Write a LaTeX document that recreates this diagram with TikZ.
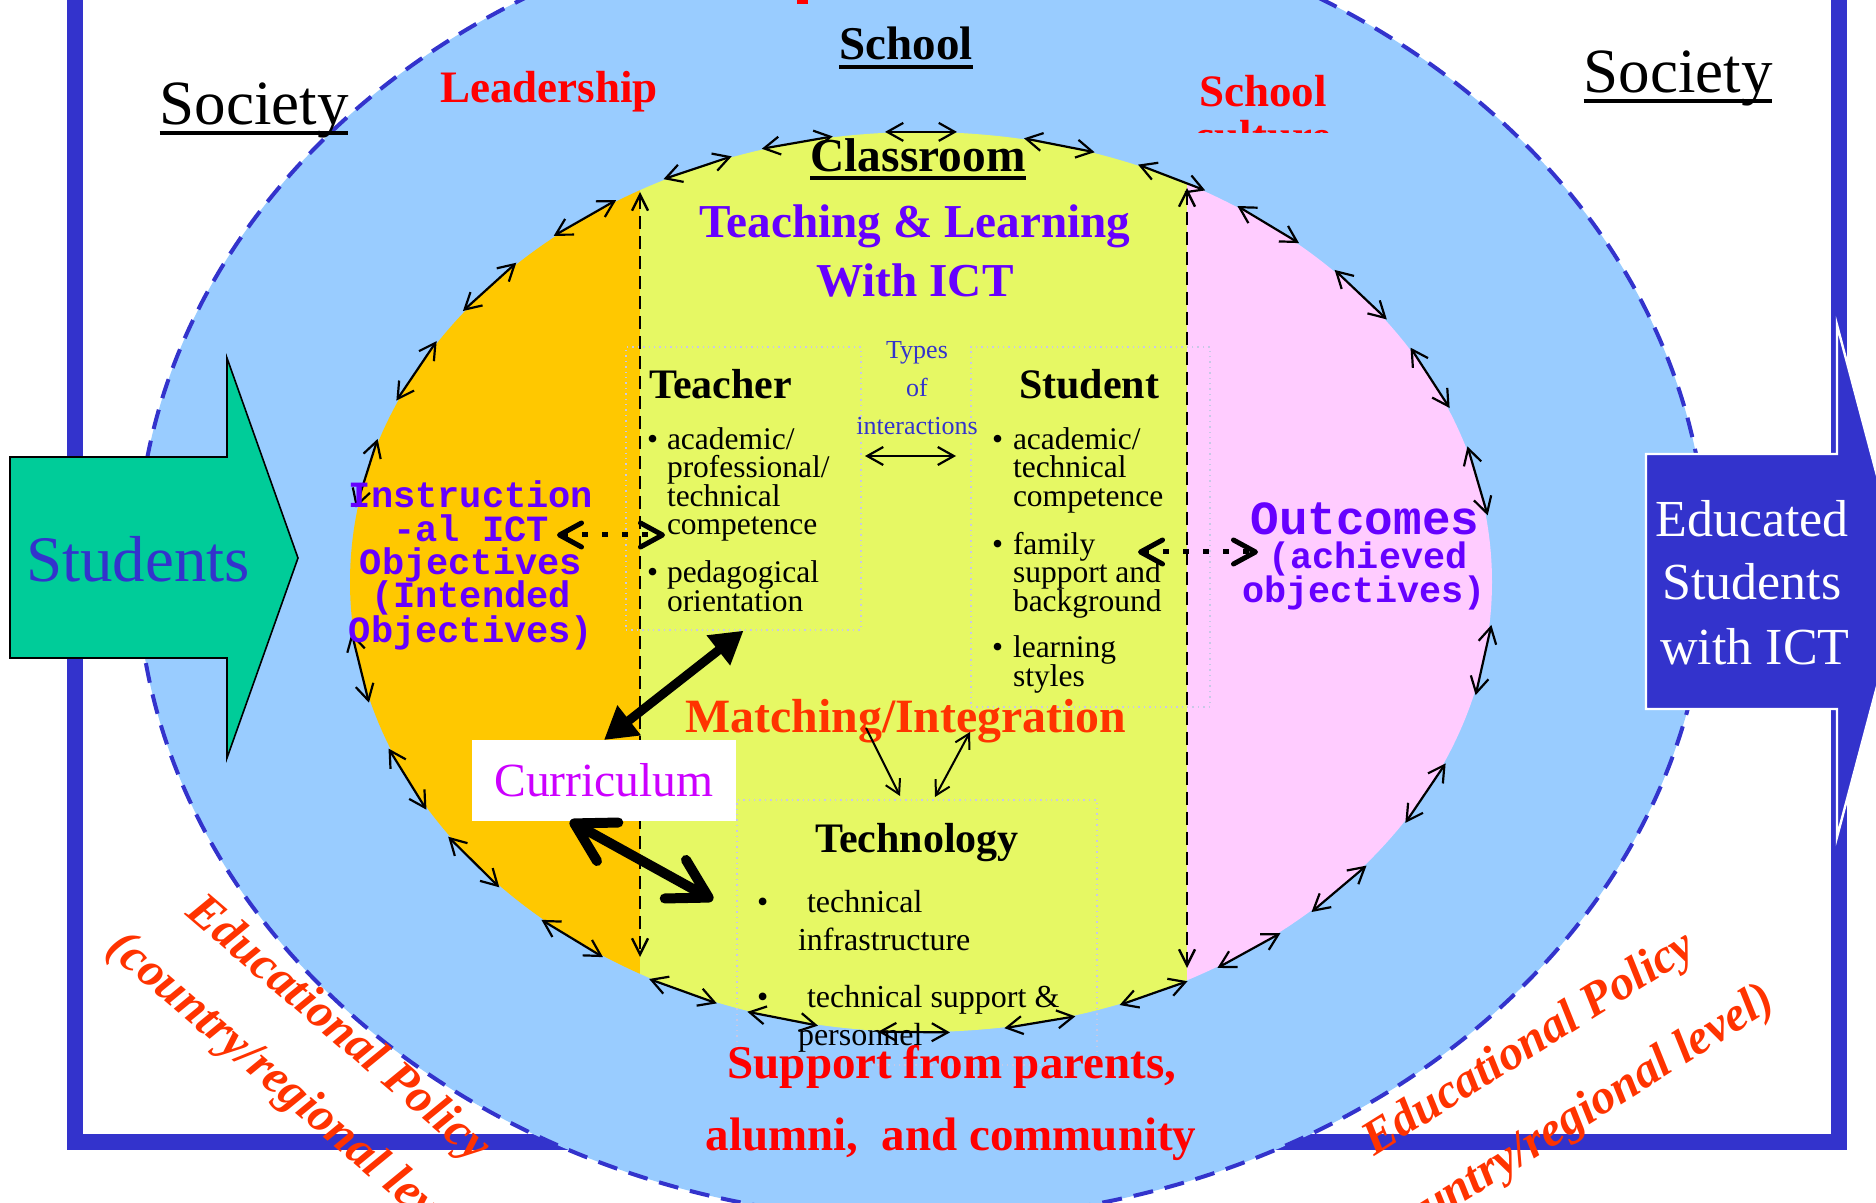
\documentclass[tikz,border=0pt]{standalone}
\usepackage{fontspec}
\setmainfont{Liberation Serif}
\newfontfamily\monofont{Liberation Mono}
\usetikzlibrary{arrows.meta}
\definecolor{skyb}{RGB}{153,204,255}
\definecolor{frameblue}{RGB}{51,51,204}
\definecolor{orng}{RGB}{255,200,0}
\definecolor{ylw}{RGB}{230,248,100}
\definecolor{pnk}{RGB}{255,204,255}
\definecolor{grn}{RGB}{0,204,153}
\definecolor{purp}{RGB}{102,0,255}
\definecolor{redd}{RGB}{255,0,0}
\definecolor{ored}{RGB}{255,51,0}
\definecolor{mag}{RGB}{204,0,255}
\definecolor{dotc}{RGB}{200,200,230}
\newcommand\fsz[1]{\fontsize{#1}{#1}\selectfont}
\tikzset{
  lbl/.style={inner sep=0pt, outer sep=0pt},
  ringarr/.style={line width=1.1pt, {Straight Barb[length=8pt,width=9pt]}-{Straight Barb[length=8pt,width=9pt]}},
  vdash/.style={line width=1.2pt, dash pattern=on 6.5pt off 3.5pt, {Straight Barb[length=8pt,width=8pt]}-{Straight Barb[length=8pt,width=8pt]}},
  thinarr/.style={line width=1pt, {Straight Barb[length=7pt,width=8pt]}-{Straight Barb[length=7pt,width=8pt]}},
  dotbox/.style={draw=dotc, line width=0.7pt, dotted, inner sep=0pt},
  dotarr/.style={line width=2.5pt, dash pattern=on 3pt off 7pt, {Straight Barb[length=11pt,width=12pt,round]}-{Straight Barb[length=11pt,width=12pt,round]}},
  bigtri/.style={line width=4.5pt, {Triangle[length=16pt,width=18pt]}-{Triangle[length=16pt,width=18pt]}},
  bigbarb/.style={line width=5pt, {Straight Barb[length=19pt,width=22pt,round]}-{Straight Barb[length=19pt,width=22pt,round]}},
  bul/.style={lbl, anchor=base west, font=\fsz{15.75}},
  tbul/.style={lbl, anchor=base west, font=\fsz{16}},
  head/.style={lbl, anchor=base west, font=\bfseries\fsz{21}},
  instr/.style={lbl, anchor=base, text=purp, font=\monofont\bfseries\fsz{18.5}},
  policy/.style={lbl, text=ored, font=\bfseries\itshape\fsz{24.3}},
}
\begin{document}
\begin{tikzpicture}[x=0.5pt,y=-0.5pt]
\useasboundingbox (0,0) rectangle (1876,1203);
\clip (0,0) rectangle (1876,1203);
\fill[white] (0,0) rectangle (1876,1203);
% frame
\draw[frameblue, line width=8pt] (74.5,-200) rectangle (1838.5,1141.5);
% outer school ellipse
\fill[skyb] (922,564) ellipse [x radius=392.5pt, y radius=328pt];
\draw[frameblue, line width=2pt, dash pattern=on 10pt off 6pt] (922,564) ellipse [x radius=392.5pt, y radius=328pt];
\fill[redd] (797,0) rectangle (808,4);
% input / output arrows
\filldraw[fill=grn, draw=black, line width=0.8pt] (10,457) -- (227,457) -- (227,358) -- (298,558) -- (227,758) -- (227,658) -- (10,658) -- cycle;
\node[lbl, anchor=base, text=frameblue, font=\fsz{32.5}] (students) at (138,582) {Students};
\filldraw[fill=frameblue, draw=white, line width=1.2pt] (1646,454) -- (1837,454) -- (1837,325) -- (1905,581) -- (1837,837) -- (1837,709) -- (1646,709) -- cycle;
\node[lbl, anchor=base, text=white, font=\fsz{26}] (ed1) at (1752,537) {Educated};
\node[lbl, anchor=base, text=white, font=\fsz{26}] (ed2) at (1752,600) {Students};
\node[lbl, anchor=base, text=white, font=\fsz{26}] (ed3) at (1755,665) {with ICT};
% classroom ellipse
\begin{scope}
\clip (921,582) ellipse [x radius=285.5pt, y radius=225pt];
\fill[orng] (300,100) rectangle (640,1100);
\fill[ylw] (640,100) rectangle (1187,1100);
\fill[pnk] (1187,100) rectangle (1550,1100);
\end{scope}
% ring of arrows
\foreach \ang [count=\i] in {102.5,90,76,64,52.6,39.7,27,13,-10,-28,-43,-55,-66,-78,-90.7,-104,-114.6,-127.6,-141.5,-154,-169,166,152,139,126,113}{
  \pgfmathsetmacro\sp{100*sqrt((5.73*sin(\ang))^2+(4.51*cos(\ang))^2)}
  \pgfmathsetmacro\dA{36/\sp*57.2958}
  \pgfmathsetmacro\xa{921+573*cos(\ang-\dA)}
  \pgfmathsetmacro\ya{582-451*sin(\ang-\dA)}
  \pgfmathsetmacro\xb{921+573*cos(\ang+\dA)}
  \pgfmathsetmacro\yb{582-451*sin(\ang+\dA)}
  \coordinate (ra\i) at (\xa,\ya);
  \coordinate (rb\i) at (\xb,\yb);
  \draw[ringarr] (ra\i) -- (rb\i);
}
% dashed dividers
\coordinate (dlT) at (640,192); \coordinate (dlB) at (640,957);
\coordinate (drT) at (1187,188); \coordinate (drB) at (1187,968);
\draw[vdash] (dlT) -- (dlB);
\draw[vdash] (drT) -- (drB);
% boxes
\node[dotbox, minimum width=117.5pt, minimum height=141.5pt] (tbox) at (743.5,488.5) {};
\node[dotbox, minimum width=119.5pt, minimum height=180pt] (sbox) at (1090.5,527) {};
\node[dotbox, minimum width=180pt, minimum height=132.5pt] (techbox) at (917,932.5) {};
\node[lbl, fill=white, minimum width=132pt, minimum height=40.5pt, text=mag, font=\fsz{23.8}] (curr) at (604,780.5) {Curriculum};
% texts in blue ring
\node[lbl, anchor=base, font=\fsz{31.5}] (socL) at (254,125) {Society};
\draw[line width=2pt] ([yshift=-4pt]socL.base west) -- ([yshift=-4pt]socL.base east);
\node[lbl, anchor=base, font=\fsz{31.5}] (socR) at (1678,93) {Society};
\draw[line width=2pt] ([yshift=-4pt]socR.base west) -- ([yshift=-4pt]socR.base east);
\node[lbl, anchor=base, font=\bfseries\fsz{23.5}] (school) at (906,60) {School};
\draw[line width=2pt] ([yshift=-3.5pt]school.base west) -- ([yshift=-3.5pt]school.base east);
\node[lbl, anchor=base, text=redd, font=\bfseries\fsz{22.5}] (lead) at (549,103) {Leadership};
\begin{scope}
\clip (1150,60) rectangle (1400,133);
\node[lbl, anchor=base, text=redd, font=\bfseries\fsz{22.5}] (scult1) at (1263,107) {School};
\node[lbl, anchor=base, text=redd, font=\bfseries\fsz{22.5}] (scult2) at (1263,152) {culture};
\end{scope}
\node[lbl, anchor=base, font=\bfseries\fsz{23.7}] (class) at (918,172) {Classroom};
\draw[line width=2pt] ([yshift=-3pt]class.base west) -- ([yshift=-3pt]class.base east);
\node[lbl, anchor=base, text=purp, font=\bfseries\fsz{23.6}] (tl1) at (915,238) {Teaching \& Learning};
\node[lbl, anchor=base, text=purp, font=\bfseries\fsz{23.6}] (tl2) at (915,297) {With ICT};
% teacher
\node[head] (teacher) at (649,399) {Teacher};
\node[bul] (tb1) at (647,450) {•};
\node[bul] (ta1) at (667,450) {academic/};
\node[bul] (ta2) at (667,478) {professional/};
\node[bul] (ta3) at (667,507) {technical};
\node[bul] (ta4) at (667,535) {competence};
\node[bul] (tb2) at (647,583) {•};
\node[bul] (ta5) at (667,583) {pedagogical};
\node[bul] (ta6) at (667,612) {orientation};
% student
\node[head] (student) at (1019,399) {Student};
\node[bul] (sb1) at (992,450) {•};
\node[bul] (sa1) at (1013,450) {academic/};
\node[bul] (sa2) at (1013,478) {technical};
\node[bul] (sa3) at (1013,507) {competence};
\node[bul] (sb2) at (992,555) {•};
\node[bul] (sa4) at (1013,555) {family};
\node[bul] (sa5) at (1013,583) {support and};
\node[bul] (sa6) at (1013,612) {background};
\node[bul] (sb3) at (992,658) {•};
\node[bul] (sa7) at (1013,658) {learning};
\node[bul] (sa8) at (1013,687) {styles};
% types of interactions
\node[lbl, anchor=base, text=frameblue, font=\fsz{13}] (ty1) at (917,359) {Types};
\node[lbl, anchor=base, text=frameblue, font=\fsz{13}] (ty2) at (917,397) {of};
\node[lbl, anchor=base, text=frameblue, font=\fsz{13}] (ty3) at (917,435) {interactions};
\coordinate (tyA) at (865,456); \coordinate (tyB) at (956,456);
\draw[ringarr] (tyA) -- (tyB);
% objectives
\node[instr] (in1) at (471,508) {Instruction};
\node[instr] (in2) at (471,542) {-al ICT};
\node[instr] (in3) at (471,575) {Objectives};
\node[instr] (in4) at (471,608) {(Intended};
\node[instr] (in5) at (471,643) {Objectives)};
\node[lbl, anchor=base, text=purp, font=\monofont\bfseries\fsz{23.8}] (out1) at (1365,535) {Outcomes};
\node[lbl, anchor=base, text=purp, font=\monofont\bfseries\fsz{18.4}] (out2) at (1368,569) {(achieved};
\node[lbl, anchor=base, text=purp, font=\monofont\bfseries\fsz{18.4}] (out3) at (1364,603) {objectives)};
% matching
\node[lbl, anchor=base, text=ored, font=\bfseries\fsz{23.9}] (match) at (906,733) {Matching/Integration};
\coordinate (m1A) at (866,728); \coordinate (m1B) at (900,796);
\coordinate (m2A) at (935,797); \coordinate (m2B) at (970,732);
\draw[line width=1pt, -{Straight Barb[length=7pt,width=8pt]}] (m1A) -- (m1B);
\draw[thinarr] (m2A) -- (m2B);
% technology
\node[head] (tech) at (815,852) {Technology};
\node[tbul] (xb1) at (757,912) {•};
\node[tbul] (xa1) at (807,912) {technical};
\node[tbul] (xa2) at (798,950) {infrastructure};
\node[tbul] (xb2) at (757,1007) {•};
\node[tbul] (xa3) at (807,1007) {technical support \&};
\node[tbul] (xa4) at (798,1045) {personnel};
% big arrows
\draw[bigtri] (tbox.south) -- (curr.north);
\coordinate (ctA) at (570,821); \coordinate (ctB) at (713,900);
\draw[bigbarb] (ctA) -- (ctB);
\coordinate (itA) at (557,535); \coordinate (itB) at (665,535);
\draw[dotarr] (itA) -- (itB);
\coordinate (soA) at (1138,552); \coordinate (soB) at (1258,552);
\draw[dotarr] (soA) -- (soB);
% support
\node[lbl, anchor=base, text=redd, font=\bfseries\fsz{23.5}] (sup1) at (952,1078) {Support from parents,};
\node[lbl, anchor=base, text=redd, font=\bfseries\fsz{23.5}] (sup2) at (951,1150) {alumni,\ \ and community};
% policy
\node[policy, rotate=-40.6] (epL1) at (337,1030) {Educational Policy};
\node[policy, rotate=-40.6] (epL2) at (292,1095) {(country/regional level)};
\node[policy, rotate=32] (epR1) at (1530,1045) {Educational Policy};
\node[policy, rotate=32] (epR2) at (1571,1122) {(country/regional level)};
\end{tikzpicture}
\end{document}
